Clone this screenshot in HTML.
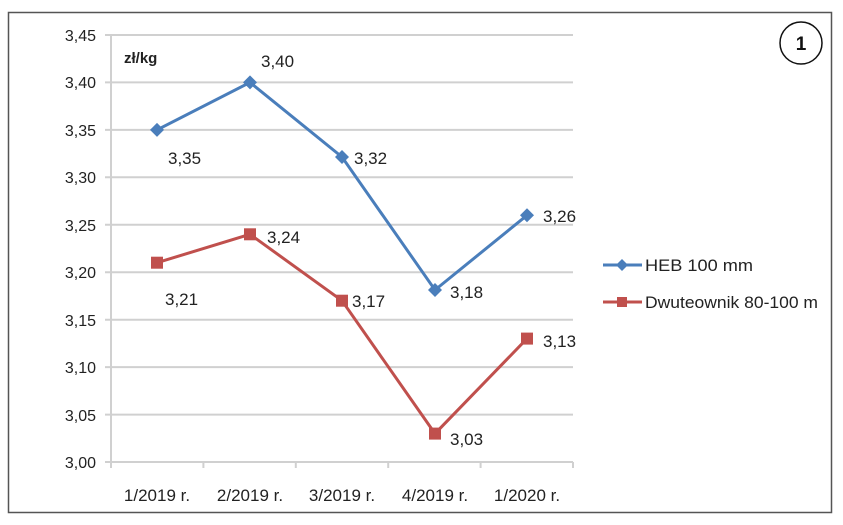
<!DOCTYPE html>
<html><head><meta charset="utf-8"><style>
html,body{margin:0;padding:0;background:#fff;}
svg{display:block;font-family:"Liberation Sans",sans-serif;}
</style></head><body>
<svg width="843" height="525" viewBox="0 0 843 525">
<rect x="8.5" y="12.5" width="823" height="500" fill="#fff" stroke="#555" stroke-width="1.5"/>
<g stroke="#d0d0d0" stroke-width="2">
<line x1="105" x2="573" y1="35" y2="35"/>
<line x1="105" x2="573" y1="82.4" y2="82.4"/>
<line x1="105" x2="573" y1="129.9" y2="129.9"/>
<line x1="105" x2="573" y1="177.3" y2="177.3"/>
<line x1="105" x2="573" y1="224.8" y2="224.8"/>
<line x1="105" x2="573" y1="272.2" y2="272.2"/>
<line x1="105" x2="573" y1="319.7" y2="319.7"/>
<line x1="105" x2="573" y1="367.1" y2="367.1"/>
<line x1="105" x2="573" y1="414.6" y2="414.6"/>
<line x1="105" x2="573" y1="462" y2="462"/>
<line x1="111" x2="111" y1="35" y2="462"/>
<line x1="111" x2="111" y1="462" y2="468"/>
<line x1="203.4" x2="203.4" y1="462" y2="468"/>
<line x1="295.8" x2="295.8" y1="462" y2="468"/>
<line x1="388.2" x2="388.2" y1="462" y2="468"/>
<line x1="480.6" x2="480.6" y1="462" y2="468"/>
<line x1="573" x2="573" y1="462" y2="468"/>
</g>
<g font-size="16" fill="#222" text-anchor="end">
<text x="96" y="41">3,45</text><text x="96" y="88">3,40</text><text x="96" y="136">3,35</text>
<text x="96" y="183">3,30</text><text x="96" y="231">3,25</text><text x="96" y="278">3,20</text>
<text x="96" y="326">3,15</text><text x="96" y="373">3,10</text><text x="96" y="421">3,05</text>
<text x="96" y="468">3,00</text>
</g>
<g font-size="17" fill="#222" text-anchor="middle">
<text x="157" y="501">1/2019 r.</text><text x="250" y="501">2/2019 r.</text>
<text x="342" y="501">3/2019 r.</text><text x="435" y="501">4/2019 r.</text>
<text x="527" y="501">1/2020 r.</text>
</g>
<text x="124" y="63" font-size="15" font-weight="bold" fill="#222">zł/kg</text>
<polyline points="157,129.9 250,82.4 342,157 435,290 527,215.3" fill="none" stroke="#4a7ebb" stroke-width="3"/>
<g fill="#4a7ebb">
<polygon points="157,122.9 164,129.9 157,136.9 150,129.9"/>
<polygon points="250,75.4 257,82.4 250,89.4 243,82.4"/>
<polygon points="342,150 349,157 342,164 335,157"/>
<polygon points="435,283 442,290 435,297 428,290"/>
<polygon points="527,208.3 534,215.3 527,222.3 520,215.3"/>
</g>
<polyline points="157,262.7 250,234.3 342,300.7 435,433.6 527,338.6" fill="none" stroke="#c0504d" stroke-width="3"/>
<g fill="#c0504d">
<rect x="151" y="256.7" width="12" height="12"/><rect x="244" y="228.3" width="12" height="12"/>
<rect x="336" y="294.7" width="12" height="12"/><rect x="429" y="427.6" width="12" height="12"/>
<rect x="521" y="332.6" width="12" height="12"/>
</g>
<g font-size="17" fill="#222">
<text x="168" y="164">3,35</text><text x="261" y="67">3,40</text><text x="354" y="164">3,32</text>
<text x="450" y="298">3,18</text><text x="543" y="222">3,26</text>
<text x="165" y="305">3,21</text><text x="267" y="243">3,24</text><text x="352" y="307">3,17</text>
<text x="450" y="445">3,03</text><text x="543" y="347">3,13</text>
</g>
<line x1="603" x2="642" y1="265" y2="265" stroke="#4a7ebb" stroke-width="3"/>
<polygon points="622,259 628,265 622,271 616,265" fill="#4a7ebb"/>
<text x="645" y="271" font-size="17" fill="#222" textLength="108" lengthAdjust="spacingAndGlyphs">HEB 100 mm</text>
<line x1="603" x2="642" y1="302" y2="302" stroke="#c0504d" stroke-width="3"/>
<rect x="617" y="297" width="10" height="10" fill="#c0504d"/>
<text x="645" y="308" font-size="17" fill="#222" textLength="173" lengthAdjust="spacingAndGlyphs">Dwuteownik 80-100 m</text>
<circle cx="801" cy="43" r="21" fill="#fff" stroke="#111" stroke-width="1.5"/>
<text x="801" y="50" font-size="19" font-weight="bold" text-anchor="middle" fill="#111">1</text>
</svg>
</body></html>
